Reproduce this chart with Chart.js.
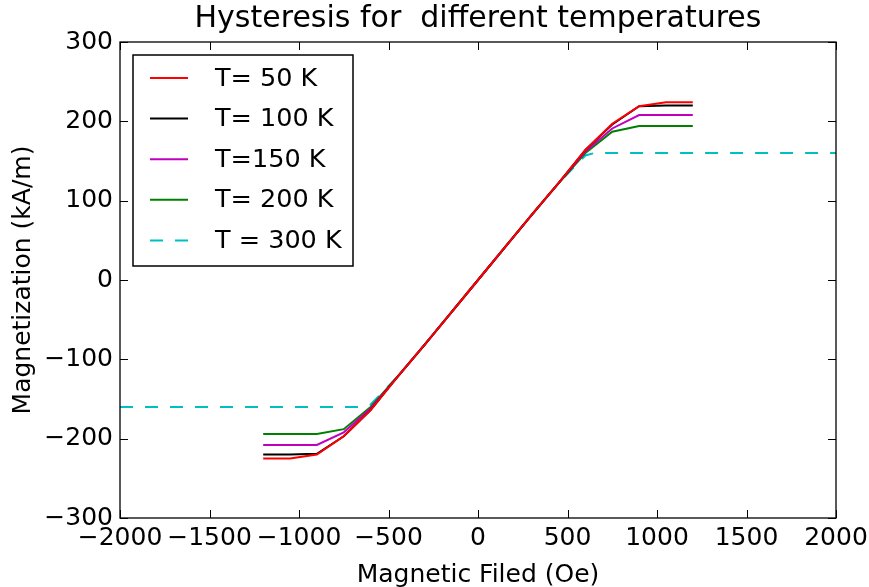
<!DOCTYPE html>
<html lang="en">

<head>
    <meta charset="UTF-8">
    <script src="https://cdn.jsdelivr.net/npm/chart.js"></script>
    <title>Hysteresis</title>
    <style>
        body {
            margin: 0;
            background: #fff;
        }

        .wrap {
            width: 869px;
            height: 587px;
        }
    </style>
</head>

<body>
    <div class="wrap">
        <canvas id="hystChart" width="869" height="587"></canvas>
    </div>
    <script>
        // field values (Oe) shared by the four solid curves
        const field = [-1200, -1050, -900, -750, -600, -450, -300, -150, 0, 150, 300, 450, 600, 750, 900, 1050, 1200];
        const m50 = [-225, -225, -220, -197, -164, -122, -82, -41, 0, 41, 82, 122, 164, 197, 219, 224, 224];
        const m100 = [-220, -220, -219, -197, -164, -122, -82, -41, 0, 41, 82, 122, 164, 196, 219, 220, 220];
        const m150 = [-208, -208, -208, -192, -162, -122, -82, -41, 0, 41, 82, 122, 162, 191, 208, 208, 208];
        const m200 = [-194, -194, -194, -188, -160, -122, -82, -41, 0, 41, 82, 122, 160, 187, 194, 194, 194];

        // 300 K curve covers the whole range
        const field300 = [-2000, -1500, -1000, -650, -600, -450, -300, -150, 0, 150, 300, 450, 600, 650, 1000, 1500, 2000];
        const m300 = [-160, -160, -160, -160, -157, -122, -82, -41, 0, 41, 82, 122, 157, 160, 160, 160, 160];

        const labels = ['T= 50 K', 'T= 100 K', 'T=150 K', 'T= 200 K', 'T = 300 K'];
        const xTicks = [-2000, -1500, -1000, -500, 0, 500, 1000, 1500, 2000];
        const yTicks = [-300, -200, -100, 0, 100, 200, 300];

        function pts(xs, ys) {
            return xs.map((v, i) => ({ x: v, y: ys[i] }));
        }

        function serie(label, xs, ys, color, dash) {
            return {
                label: label,
                data: pts(xs, ys),
                borderColor: color,
                backgroundColor: color,
                borderWidth: 2,
                borderDash: dash || [],
                pointRadius: 0,
                showLine: true,
                tension: 0,
                fill: false
            };
        }

        const font = "'DejaVu Sans', sans-serif";
        const minus = v => String(v).replace('-', '\u2212');

        // frame, inward ticks on all four sides and the boxed legend
        const framePlugin = {
            id: 'frame',
            afterDraw(chart) {
                const ctx = chart.ctx;
                const a = chart.chartArea;
                const sx = chart.scales.x, sy = chart.scales.y;
                ctx.save();
                ctx.strokeStyle = '#000';
                ctx.lineWidth = 1.3;
                ctx.strokeRect(a.left, a.top, a.right - a.left, a.bottom - a.top);
                ctx.lineWidth = 1;
                ctx.beginPath();
                xTicks.forEach(v => {
                    const p = Math.round(sx.getPixelForValue(v)) + 0.5;
                    ctx.moveTo(p, a.bottom); ctx.lineTo(p, a.bottom - 8);
                    ctx.moveTo(p, a.top); ctx.lineTo(p, a.top + 8);
                });
                yTicks.forEach(v => {
                    const p = Math.round(sy.getPixelForValue(v)) + 0.5;
                    ctx.moveTo(a.left, p); ctx.lineTo(a.left + 8, p);
                    ctx.moveTo(a.right, p); ctx.lineTo(a.right - 8, p);
                });
                ctx.stroke();

                // legend
                ctx.fillStyle = '#fff';
                ctx.fillRect(133, 55, 220, 211);
                ctx.lineWidth = 1.5;
                ctx.strokeStyle = '#000';
                ctx.strokeRect(133, 55, 220, 211);
                ctx.font = '25.5px ' + font;
                ctx.textBaseline = 'middle';
                chart.data.datasets.forEach((ds, i) => {
                    const yy = 78 + i * 40.6;
                    ctx.strokeStyle = ds.borderColor;
                    ctx.lineWidth = 2;
                    ctx.setLineDash(ds.borderDash);
                    ctx.beginPath();
                    ctx.moveTo(150, yy); ctx.lineTo(188, yy);
                    ctx.stroke();
                    ctx.setLineDash([]);
                    ctx.fillStyle = '#000';
                    ctx.fillText(ds.label, 215, yy + 1);
                });
                ctx.restore();
            }
        };

        const ctxH = document.getElementById('hystChart').getContext('2d');
        const hystChart = new Chart(ctxH, {
            type: 'scatter',
            data: {
                datasets: [
                    serie(labels[0], field, m50, '#ff0000'),
                    serie(labels[1], field, m100, '#000000'),
                    serie(labels[2], field, m150, '#bf00bf'),
                    serie(labels[3], field, m200, '#008000'),
                    serie(labels[4], field300, m300, '#00bfbf', [13, 12])
                ]
            },
            options: {
                responsive: false,
                animation: false,
                devicePixelRatio: 1,
                layout: { padding: { left: 0, right: 33, top: 0, bottom: 0 } },
                plugins: {
                    legend: { display: false },
                    tooltip: { enabled: false },
                    title: {
                        display: true,
                        text: 'Hysteresis for  different temperatures',
                        color: '#000',
                        fullSize: false,
                        font: { family: font, size: 30, weight: 'normal', lineHeight: 1.2 },
                        padding: { top: 1.5, bottom: 4.5 }
                    }
                },
                scales: {
                    x: {
                        type: 'linear',
                        min: -2000,
                        max: 2000,
                        afterBuildTicks: s => { s.ticks = xTicks.map(v => ({ value: v })); },
                        afterFit: s => { s.height = 69; s.paddingLeft = 0; s.paddingRight = 0; },
                        grid: { display: false, drawTicks: false },
                        border: { display: false },
                        ticks: {
                            color: '#000',
                            font: { family: font, size: 25 },
                            padding: 5,
                            maxRotation: 0,
                            autoSkip: false,
                            callback: minus
                        },
                        title: {
                            display: true,
                            text: 'Magnetic Filed (Oe)',
                            color: '#000',
                            font: { family: font, size: 25 },
                            padding: { top: 0, bottom: -3 }
                        }
                    },
                    y: {
                        type: 'linear',
                        min: -300,
                        max: 300,
                        afterBuildTicks: s => { s.ticks = yTicks.map(v => ({ value: v })); },
                        afterFit: s => { s.width = 120; s.paddingTop = 0; s.paddingBottom = 0; },
                        grid: { display: false, drawTicks: false },
                        border: { display: false },
                        ticks: {
                            color: '#000',
                            font: { family: font, size: 25 },
                            padding: 7,
                            autoSkip: false,
                            callback: minus
                        },
                        title: {
                            display: true,
                            text: 'Magnetization (kA/m)',
                            color: '#000',
                            font: { family: font, size: 25 },
                            padding: { top: 8, bottom: 0 }
                        }
                    }
                }
            },
            plugins: [framePlugin]
        });
    </script>
</body>

</html>
